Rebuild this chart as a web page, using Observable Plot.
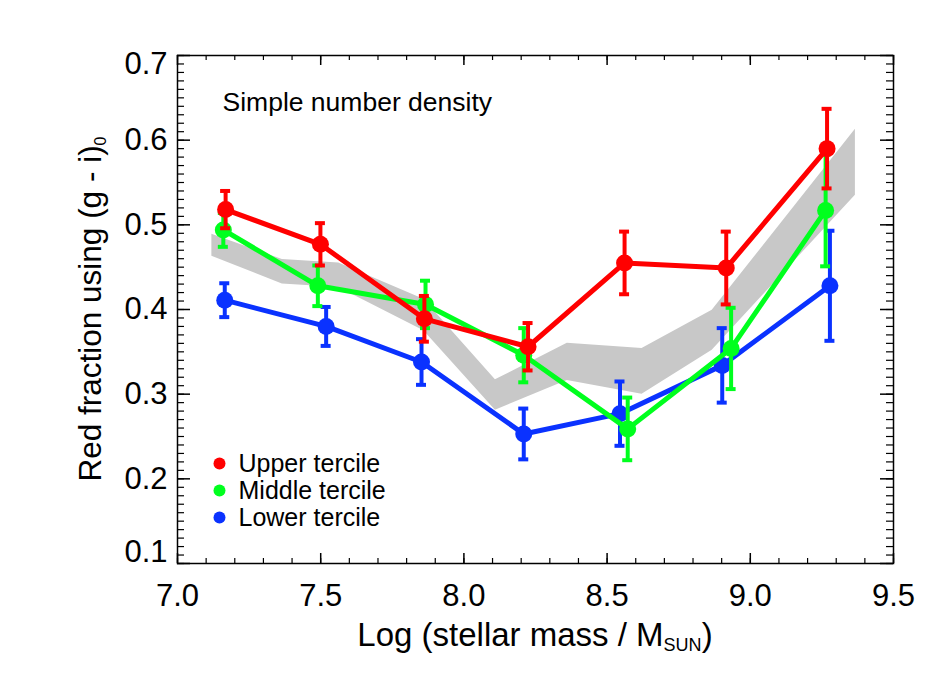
<!DOCTYPE html>
<html>
<head>
<meta charset="utf-8">
<script src="https://cdn.jsdelivr.net/npm/d3@7"></script>
<script src="https://cdn.jsdelivr.net/npm/@observablehq/plot@0.6"></script>
<style>
  html, body { margin: 0; padding: 0; background: #fff; }
  #chart { width: 947px; height: 676px; }
</style>
</head>
<body>
<div id="chart"></div>
<script>
// ---- data ----
const upperX   = [7.168, 7.499, 7.862, 8.224, 8.561, 8.916, 9.268];
const upperY   = [0.518, 0.477, 0.389, 0.356, 0.455, 0.449, 0.590];
const upperErr = [0.022, 0.025, 0.027, 0.028, 0.037, 0.043, 0.047];

const middleX   = [7.160, 7.490, 7.866, 8.209, 8.572, 8.933, 9.263];
const middleY   = [0.494, 0.428, 0.406, 0.346, 0.259, 0.354, 0.517];
const middleErr = [0.020, 0.024, 0.028, 0.032, 0.037, 0.048, 0.066];

const lowerX   = [7.165, 7.519, 7.852, 8.209, 8.545, 8.902, 9.278];
const lowerY   = [0.411, 0.380, 0.338, 0.253, 0.277, 0.334, 0.428];
const lowerErr = [0.020, 0.023, 0.027, 0.030, 0.038, 0.044, 0.065];

const bandX  = [7.12, 7.366, 7.563, 7.86, 8.11, 8.361, 8.622, 8.867, 9.367];
const bandHi = [0.489, 0.459, 0.455, 0.412, 0.317, 0.360, 0.354, 0.399, 0.613];
const bandLo = [0.463, 0.430, 0.426, 0.375, 0.281, 0.316, 0.300, 0.352, 0.535];

const seriesNames  = ["Lower tercile", "Middle tercile", "Upper tercile"];
const seriesColors = ["#0a32ff", "#00ff1e", "#ff0000"];
const legendOrder  = ["Upper tercile", "Middle tercile", "Lower tercile"];

const xTicks = [7.0, 7.5, 8.0, 8.5, 9.0, 9.5];
const yTicks = [0.1, 0.2, 0.3, 0.4, 0.5, 0.6, 0.7];
const xMinor = d3.range(70, 96).map(v => v / 10);
const yMinor = d3.range(10, 71).map(v => v / 100);

const annotation = "Simple number density";

// ---- build tables ----
function table(xs, ys, es, name) {
  return xs.map((x, i) => ({x, y: ys[i], lo: ys[i] - es[i], hi: ys[i] + es[i], name}));
}
const series = [
  table(lowerX, lowerY, lowerErr, seriesNames[0]),
  table(middleX, middleY, middleErr, seriesNames[1]),
  table(upperX, upperY, upperErr, seriesNames[2])
];
const band = bandX.map((x, i) => ({x, lo: bandLo[i], hi: bandHi[i]}));
const colorOf = name => seriesColors[seriesNames.indexOf(name)];

const W = 947, H = 676, ML = 177, MR = 54, MT = 55, MB = 113;
const FW = W - ML - MR, FH = H - MT - MB;
const font = "'Liberation Sans', Arial, Helvetica, sans-serif";

const seriesMarks = series.flatMap(data => {
  const c = colorOf(data[0].name);
  return [
    Plot.line(data, {x: "x", y: "y", stroke: c, strokeWidth: 5}),
    Plot.ruleX(data, {x: "x", y1: "lo", y2: "hi", stroke: c, strokeWidth: 4}),
    Plot.ruleY(data, {y: "hi", x1: "x", x2: "x", insetLeft: -5, insetRight: -5, stroke: c, strokeWidth: 4}),
    Plot.ruleY(data, {y: "lo", x1: "x", x2: "x", insetLeft: -5, insetRight: -5, stroke: c, strokeWidth: 4}),
    Plot.dot(data, {x: "x", y: "y", r: 8.5, fill: c, stroke: "none"})
  ];
});

const legendMarks = legendOrder.flatMap((name, i) => [
  Plot.dot([name], {frameAnchor: "top-left", dx: 42, dy: 408 + i * 27, r: 6, fill: colorOf(name)}),
  Plot.text([name], {frameAnchor: "top-left", dx: 61, dy: 408 + i * 27, text: d => d, textAnchor: "start", lineAnchor: "middle", fontSize: 25, fill: "black"})
]);

const plot = Plot.plot({
  width: W, height: H,
  marginLeft: ML, marginRight: MR, marginTop: MT, marginBottom: MB,
  x: {domain: [7, 9.5]},
  y: {domain: [0.1, 0.7]},
  style: {fontFamily: font, background: "white", color: "black", overflow: "visible"},
  marks: [
    Plot.areaY(band, {x: "x", y1: "lo", y2: "hi", fill: "#c8c8c8"}),
    ...seriesMarks,
    // inward ticks on all four sides
    Plot.ruleX(xMinor, {x: d => d, insetTop: FH - 5, stroke: "black", strokeWidth: 1.2}),
    Plot.ruleX(xMinor, {x: d => d, insetBottom: FH - 5, stroke: "black", strokeWidth: 1.2}),
    Plot.ruleX(xTicks, {x: d => d, insetTop: FH - 10, stroke: "black", strokeWidth: 1.5}),
    Plot.ruleX(xTicks, {x: d => d, insetBottom: FH - 10, stroke: "black", strokeWidth: 1.5}),
    Plot.ruleY(yMinor, {y: d => d, insetRight: FW - 7, stroke: "black", strokeWidth: 1.2}),
    Plot.ruleY(yMinor, {y: d => d, insetLeft: FW - 7, stroke: "black", strokeWidth: 1.2}),
    Plot.ruleY(yTicks, {y: d => d, insetRight: FW - 13, stroke: "black", strokeWidth: 1.5}),
    Plot.ruleY(yTicks, {y: d => d, insetLeft: FW - 13, stroke: "black", strokeWidth: 1.5}),
    Plot.frame({stroke: "black", strokeWidth: 1.5}),
    Plot.axisX({ticks: xTicks, tickFormat: d => d.toFixed(1), tickSize: 0, tickPadding: 20, fontSize: 31, label: null}),
    Plot.axisY({ticks: yTicks.slice(1, -1), tickFormat: d => d.toFixed(1), tickSize: 0, tickPadding: 10, fontSize: 31, label: null}),
    Plot.axisY({ticks: yTicks.slice(-1), tickFormat: d => d.toFixed(1), tickSize: 0, tickPadding: 10, fontSize: 31, label: null, dy: 9}),
    Plot.axisY({ticks: yTicks.slice(0, 1), tickFormat: d => d.toFixed(1), tickSize: 0, tickPadding: 10, fontSize: 31, label: null, dy: -11}),
    Plot.text([annotation], {frameAnchor: "top-left", dx: 45, dy: 47, text: d => d, textAnchor: "start", lineAnchor: "middle", fontSize: 26.5, fill: "black"}),
    ...legendMarks
  ]
});

// axis titles with subscripts
const svg = d3.select(plot);
const xs = plot.scale("x"), ys = plot.scale("y");
const xt = svg.append("text")
  .attr("x", (xs.apply(7) + xs.apply(9.5)) / 2)
  .attr("y", 646)
  .attr("text-anchor", "middle")
  .attr("font-family", font)
  .attr("font-size", 33)
  .attr("fill", "black");
xt.append("tspan").text("Log (stellar mass / M");
xt.append("tspan").attr("font-size", 18).attr("dy", 5).text("SUN");
xt.append("tspan").attr("dy", -5).text(")");

const yc = (ys.apply(0.1) + ys.apply(0.7)) / 2;
const yt = svg.append("text")
  .attr("transform", `translate(101,${yc}) rotate(-90)`)
  .attr("text-anchor", "middle")
  .attr("font-family", font)
  .attr("font-size", 31.5)
  .attr("fill", "black");
yt.append("tspan").text("Red fraction using (g - i)");
yt.append("tspan").attr("font-size", 16).attr("dy", 5).text("0");

document.getElementById("chart").appendChild(plot);
</script>
</body>
</html>
